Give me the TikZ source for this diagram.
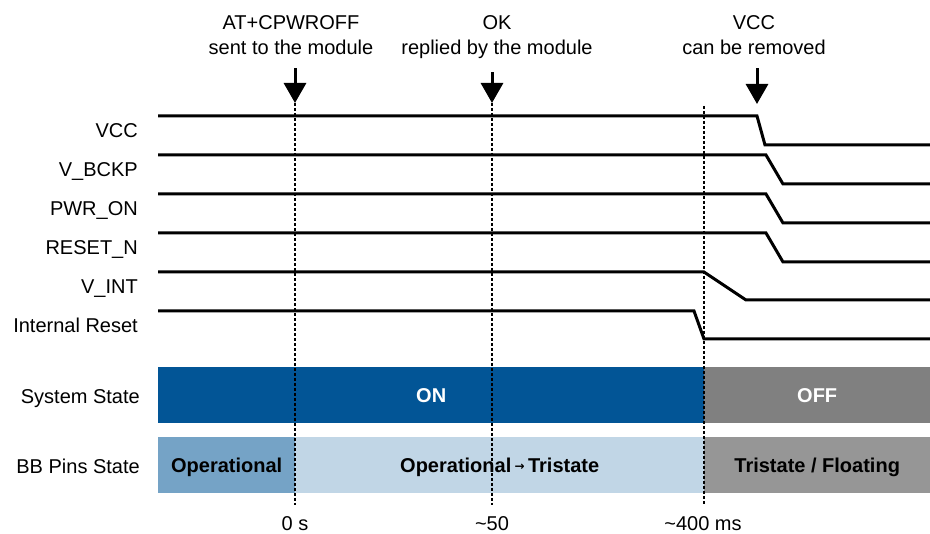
\documentclass[tikz,border=0pt]{standalone}
\usepackage{fontspec}
\setmainfont{Liberation Sans}
\newfontfamily\arrowfont{DejaVu Sans}
\usetikzlibrary{arrows.meta,positioning}
\definecolor{onblue}{RGB}{2, 85, 150}
\definecolor{offgray}{RGB}{128, 128, 128}
\definecolor{opblue}{RGB}{117, 163, 198}
\definecolor{paleblue}{RGB}{193, 214, 230}
\definecolor{floatgray}{RGB}{150, 150, 150}
\tikzstyle{signal} = [
    line width=3pt,
    line join=miter,
    draw=black
]
\tikzstyle{marker} = [
    line width=1.5pt,
    dash pattern=on 3pt off 2pt,
    draw=black
]
\tikzstyle{event} = [
    line width=3pt,
    -{Triangle[width=22pt,length=20pt]},
    draw=black
]
\tikzstyle{signame} = [
    anchor=base east,
    inner sep=0pt,
    font=\fontsize{20}{25}\selectfont
]
\tikzstyle{note} = [
    anchor=base,
    inner sep=0pt,
    align=center,
    font=\fontsize{20}{25}\selectfont
]
\tikzstyle{statebar} = [
    rectangle,
    anchor=north west,
    inner sep=0pt,
    minimum height=56pt,
    text height=14pt,
    text depth=0pt,
    font=\bfseries\fontsize{20}{25}\selectfont
]

\begin{document}
\begin{tikzpicture}[x=1pt, y=-1pt]
    \useasboundingbox (0,0) rectangle (930,534);

    % time markers
    \coordinate (t0) at (295,103);
    \coordinate (t0end) at (295,505);
    \coordinate (t50) at (492,103);
    \coordinate (t50end) at (492,505);
    \coordinate (t400) at (704,106);
    \coordinate (t400end) at (704,505);
    \coordinate (vccoff) at (757,104);

    % state bars
    \node[statebar, fill=onblue, text=white, minimum width=546pt] (on) at (158,367) {ON};
    \node[statebar, fill=offgray, text=white, minimum width=226pt] (off) at (704,367) {OFF};
    \node[statebar, fill=opblue, minimum width=137pt] (oper) at (158,437) {Operational};
    \node[statebar, fill=paleblue, minimum width=409pt] (optotri) at (295,437)
        {Operational\,\raisebox{2pt}{\arrowfont\fontsize{12}{12}\selectfont →}\,Tristate};
    \node[statebar, fill=floatgray, minimum width=226pt] (floating) at (704,437) {Tristate / Floating};

    \draw[marker] (t0) -- (t0end);
    \draw[marker] (t50) -- (t50end);
    \draw[marker] (t400) -- (t400end);

    % signals
    \draw[signal] (158,116) -- (757,116) -- (765,145) -- (930,145);
    \draw[signal] (158,155) -- (766,155) -- (783,184) -- (930,184);
    \draw[signal] (158,194) -- (766,194) -- (783,223) -- (930,223);
    \draw[signal] (158,233) -- (766,233) -- (783,262) -- (930,262);
    \draw[signal] (158,272) -- (704,272) -- (746,300) -- (930,300);
    \draw[signal] (158,311) -- (694,311) -- (704,339) -- (930,339);

    \node[signame] (vcc) at (138,138) {VCC};
    \node[signame] (vbckp) at (138,177) {V\_BCKP};
    \node[signame] (pwron) at (138,216) {PWR\_ON};
    \node[signame] (resetn) at (138,255) {RESET\_N};
    \node[signame] (vint) at (138,294) {V\_INT};
    \node[signame] (intreset) at (138,333) {Internal Reset};
    \node[signame] (sysstate) at (140,404) {System State};
    \node[signame] (bbstate) at (140,474) {BB Pins State};

    % events
    \node[note] (cmd) at (291,55) {AT+CPWROFF\\sent to the module};
    \node[note] (okrep) at (497,55) {OK\\replied by the module};
    \node[note] (vccrem) at (754,55) {VCC\\can be removed};
    \draw[event] (cmd.south -| t0) ++(0,13) coordinate (cmdarrow) -- (t0);
    \draw[event] (okrep.south -| t50) ++(0,13) coordinate (okarrow) -- (t50);
    \draw[event] (vccrem.south -| vccoff) ++(0,13) coordinate (vccarrow) -- (vccoff);

    % time axis
    \node[note] (zero) at (295,531) {0 s};
    \node[note] (fifty) at (492,531) {\textasciitilde 50};
    \node[note] (fourhundred) at (703,531) {\textasciitilde 400 ms};
\end{tikzpicture}
\end{document}
